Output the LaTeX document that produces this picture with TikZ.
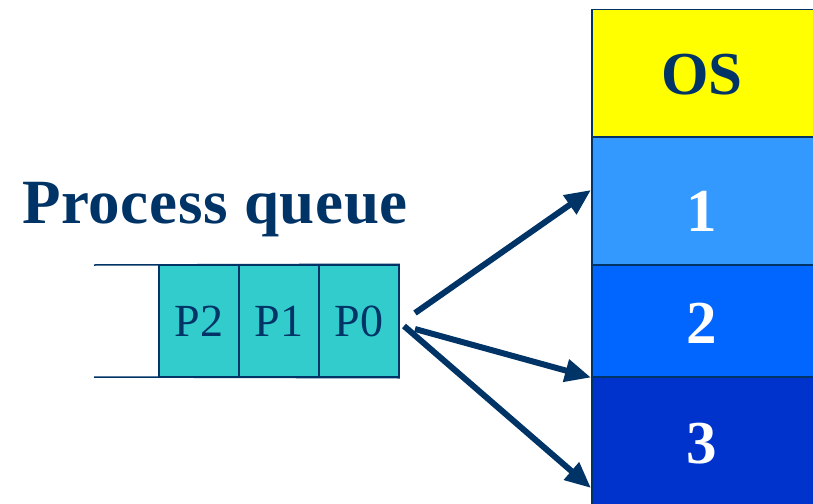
\documentclass[tikz,border=0pt]{standalone}
\usepackage{fontspec}
\setmainfont{Liberation Serif}
\newfontfamily\titlefont[LetterSpace=1]{Liberation Serif}
\usetikzlibrary{arrows.meta}
\definecolor{navy}{HTML}{003366}
\definecolor{teal}{HTML}{33CCCC}
\definecolor{osyellow}{HTML}{FFFF00}
\definecolor{mone}{HTML}{3399FF}
\definecolor{mtwo}{HTML}{0066FF}
\definecolor{mthree}{HTML}{0033CC}
\begin{document}
\begin{tikzpicture}[x=1pt,y=-1pt,
  cell/.style={draw=navy,line width=1.5pt,fill=teal,minimum width=80pt,minimum height=112pt,inner sep=0pt,text=navy,font=\fontsize{46}{50}\selectfont},
  mem/.style={draw=navy,line width=1.5pt,minimum width=240pt,inner sep=0pt,anchor=north west},
  memtext/.style={font=\fontsize{61}{64}\selectfont\bfseries},
  arr/.style={draw=navy,line width=6pt,-{Triangle[length=26pt,width=22pt]}}]
\useasboundingbox (0,0) rectangle (813,503);
\node[mem,fill=osyellow,minimum height=127pt] (os) at (591,9) {};
\node[mem,fill=mone,minimum height=128pt] (m1) at (591,136) {};
\node[mem,fill=mtwo,minimum height=112pt] (m2) at (591,264) {};
\node[mem,fill=mthree,minimum height=140pt] (m3) at (591,376) {};
\node[memtext,text=navy] (ost) at (702,75) {OS};
\node[memtext,text=white] (t1) at (702,211) {1};
\node[memtext,text=white] (t2) at (702,323) {2};
\node[memtext,text=white] (t3) at (702,444) {3};
\node[text=navy,font=\titlefont\fontsize{63}{66}\selectfont\bfseries,anchor=base west,inner sep=0pt] (title) at (22,223) {Process queue};
\node[cell] (p2) at (199,321) {P2};
\node[cell] (p1) at (279,321) {P1};
\node[cell] (p0) at (359,321) {P0};
\coordinate (qtl) at (94,265);
\coordinate (qbl) at (94,377);
\draw[navy,line width=1.5pt] (qtl) -- (p0.north east);
\draw[navy,line width=1.5pt] (qbl) -- (p0.south east);
\coordinate (s1) at (415,313);
\coordinate (s2) at (415,329);
\coordinate (s3) at (404,326);
\coordinate (e1) at (591,190);
\coordinate (e3) at (591,488);
\draw[arr] (s1) -- (e1);
\draw[arr] (s2) -- (m2.south west);
\draw[arr] (s3) -- (e3);
\end{tikzpicture}
\end{document}
